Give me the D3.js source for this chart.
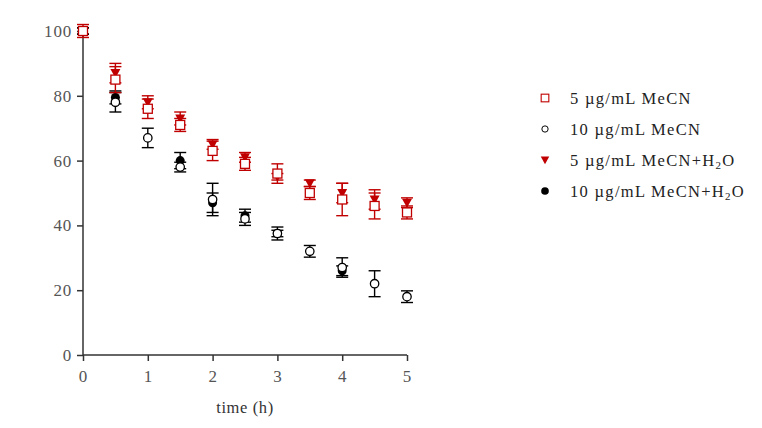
<!DOCTYPE html>
<html><head><meta charset="utf-8">
<script src="https://cdn.jsdelivr.net/npm/d3@7"></script>
<style>body{margin:0;background:#fff}svg{display:block}</style>
</head><body>
<svg id="c" width="762" height="428"></svg>
<script>
const xTicks = [0, 1, 2, 3, 4, 5];
const yTicks = [0, 20, 40, 60, 80, 100];
const seriesNames = ["5 µg/mL MeCN", "10 µg/mL MeCN", "5 µg/mL MeCN+H2O", "10 µg/mL MeCN+H2O"];
// time, mean, error
const t5MeCN   = [0, 0.5, 1, 1.5, 2, 2.5, 3, 3.5, 4, 4.5, 5];
const v5MeCN   = [100, 85, 76, 71, 63, 59, 56, 50, 48, 46, 44];
const e5MeCN   = [2, 4, 3, 2, 3, 2, 3, 2, 5, 4, 2];
const t10MeCN  = [0, 0.5, 1, 1.5, 2, 2.5, 3, 3.5, 4, 4.5, 5];
const v10MeCN  = [100, 78, 67, 58, 48, 42, 37.5, 32, 27, 22, 18];
const e10MeCN  = [1, 3, 3, 1.5, 5, 2, 2, 1.8, 3, 4, 1.8];
const t5H2O    = [0, 0.5, 1, 1.5, 2, 2.5, 3, 3.5, 4, 4.5, 5];
const v5H2O    = [100, 87, 78, 73, 65, 61, 55, 53, 50, 48, 47];
const e5H2O    = [1, 3, 2, 2, 1.5, 1.5, 1, 1, 3, 3, 1.5];
const t10H2O   = [0, 0.5, 1.5, 2, 2.5, 3, 4];
const v10H2O   = [100, 79.5, 60, 47, 43, 37.5, 26];
const e10H2O   = [1, 2, 2.5, 3, 2, 1, 1.5];

const red = "#c00000";
const svg = d3.select("#c");
const x = d3.scaleLinear().domain([0, 5]).range([83, 407]);
const y = d3.scaleLinear().domain([0, 100]).range([355, 31]);
const font = "'Liberation Serif','Times New Roman',serif";
const axisCol = "#333";

const xa = svg.append("g").attr("transform", `translate(0,${y(0)})`)
  .call(d3.axisBottom(x).tickValues(xTicks).tickSize(6).tickPadding(9).tickFormat(d3.format("d")));
const ya = svg.append("g").attr("transform", `translate(${x(0)},0)`)
  .call(d3.axisLeft(y).tickValues(yTicks).tickSize(6).tickPadding(5).tickFormat(d3.format("d")));
[xa, ya].forEach(g => {
  g.select(".domain").attr("stroke", axisCol).attr("stroke-width", 1.5);
  g.selectAll(".tick line").attr("stroke", axisCol).attr("stroke-width", 1.5);
  g.selectAll(".tick text").attr("font-family", font).attr("font-size", 17).attr("fill", "#555")
    .attr("letter-spacing", 0.8);
});
xa.select(".domain").attr("d", `M${x(0)},0H${x(5)}`);
ya.select(".domain").attr("d", `M0,${y(0)}V${y(100)}`);

svg.append("text").attr("x", (x(0) + x(5)) / 2).attr("y", 413).attr("text-anchor", "middle")
  .attr("font-family", font).attr("font-size", 16.5).attr("letter-spacing", 0.6).attr("fill", "#333").text("time (h)");

function build(ts, vs, es) { return ts.map((t, i) => ({t, v: vs[i], e: es[i]})); }
const data = [
  {name: seriesNames[2], pts: build(t5H2O, v5H2O, e5H2O), col: red, sym: "tri"},
  {name: seriesNames[3], pts: build(t10H2O, v10H2O, e10H2O), col: "#000", sym: "fcirc"},
  {name: seriesNames[1], pts: build(t10MeCN, v10MeCN, e10MeCN), col: "#000", sym: "ocirc"},
  {name: seriesNames[0], pts: build(t5MeCN, v5MeCN, e5MeCN), col: red, sym: "sq"},
];

function drawSym(g, sym, col) {
  if (sym === "sq") g.append("rect").attr("x", -4.5).attr("y", -4.5).attr("width", 9).attr("height", 9)
    .attr("fill", "#fff").attr("stroke", col).attr("stroke-width", 1.3);
  else if (sym === "ocirc") g.append("circle").attr("r", 4.2).attr("fill", "#fff").attr("stroke", col).attr("stroke-width", 1.3);
  else if (sym === "fcirc") g.append("circle").attr("r", 4.5).attr("fill", col);
  else if (sym === "tri") g.append("path").attr("d", "M-5,-4L5,-4L0,5Z").attr("fill", col);
}

data.forEach(s => {
  const g = svg.append("g");
  s.pts.forEach(p => {
    const cx = x(p.t);
    const eb = g.append("g").attr("stroke", s.col).attr("stroke-width", 1.4);
    eb.append("line").attr("x1", cx).attr("x2", cx).attr("y1", y(p.v + p.e)).attr("y2", y(p.v - p.e));
    eb.append("line").attr("x1", cx - 6).attr("x2", cx + 6).attr("y1", y(p.v + p.e)).attr("y2", y(p.v + p.e));
    eb.append("line").attr("x1", cx - 6).attr("x2", cx + 6).attr("y1", y(p.v - p.e)).attr("y2", y(p.v - p.e));
  });
  s.pts.forEach(p => {
    drawSym(g.append("g").attr("transform", `translate(${x(p.t)},${y(p.v)})`), s.sym, s.col);
  });
});

// legend
const legOrder = [
  {name: seriesNames[0], col: red, sym: "sq"},
  {name: seriesNames[1], col: "#000", sym: "ocirc"},
  {name: seriesNames[2], col: red, sym: "tri"},
  {name: seriesNames[3], col: "#000", sym: "fcirc"},
];
legOrder.forEach((d, i) => {
  const ly = 98 + i * 31;
  const g = svg.append("g").attr("transform", `translate(545,${ly})`);
  const gs = g.append("g").attr("transform", d.sym === "ocirc" ? "scale(0.75)" : "scale(0.85)");
  drawSym(gs, d.sym, d.col);
  const txt = g.append("text").attr("x", 25).attr("y", 5.5).attr("font-family", font).attr("font-size", 16.5)
    .attr("letter-spacing", 1.3).attr("fill", "#222");
  if (d.name.endsWith("H2O")) {
    txt.append("tspan").text(d.name.slice(0, -2));
    txt.append("tspan").attr("font-size", 11).attr("dy", 3).text("2");
    txt.append("tspan").attr("dy", -3).text("O");
  } else txt.text(d.name);
});
</script>
</body></html>
